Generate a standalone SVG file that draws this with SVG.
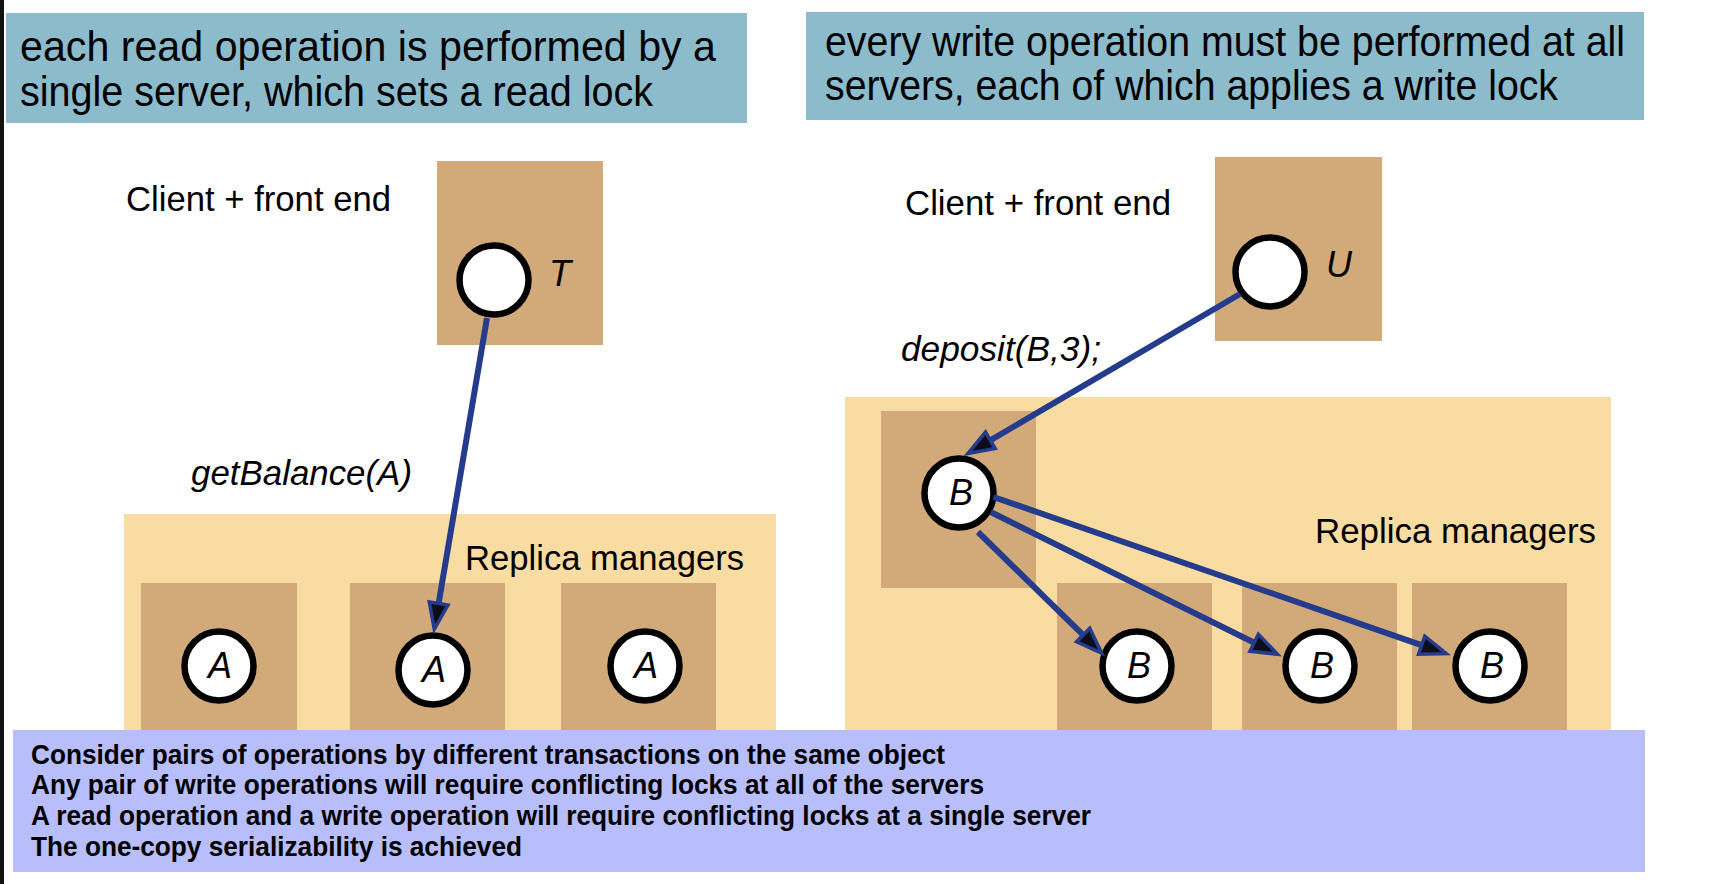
<svg xmlns="http://www.w3.org/2000/svg" width="1714" height="884" viewBox="0 0 1714 884">
<defs>
<style>
text{font-family:"Liberation Sans",Arial,Helvetica,sans-serif;fill:#000}
.hdr{fill:#8CBBCB}
.big{fill:#F8DCA2}
.srv{fill:#D2AA7A}
.obj{fill:#fff;stroke:#000;stroke-width:6.5}
.h{font-size:42px}
.lbl{font-size:35px}
.it{font-style:italic}
.let{font-size:36px;font-style:italic;text-anchor:middle}
.note{font-size:28px;font-weight:bold}
.conn{fill:none;stroke:#253C8C;stroke-width:6;marker-end:url(#ah)}
</style>
<marker id="ah" markerUnits="userSpaceOnUse" orient="auto" viewBox="-16 -14 38 28" markerWidth="38" markerHeight="28" refX="0" refY="0" overflow="visible">
<path d="M14,0 L-12,-9.5 L-12,9.5 Z" fill="#0d0d1a" stroke="#253C8C" stroke-width="3.5" stroke-linejoin="miter"/>
</marker>
</defs>
<rect x="0" y="0" width="1714" height="884" fill="#fff"/>
<rect x="0" y="0" width="4" height="884" fill="#111"/>

<g id="header-read">
<rect class="hdr" x="6" y="13" width="741" height="110"/>
<text class="h" x="20" y="61" textLength="696" lengthAdjust="spacingAndGlyphs">each read operation is performed by a</text>
<text class="h" x="20" y="106" textLength="633" lengthAdjust="spacingAndGlyphs">single server, which sets a read lock</text>
</g>
<g id="header-write">
<rect class="hdr" x="806" y="12" width="838" height="108"/>
<text class="h" x="825" y="56" textLength="800" lengthAdjust="spacingAndGlyphs">every write operation must be performed at all</text>
<text class="h" x="825" y="100" textLength="733" lengthAdjust="spacingAndGlyphs">servers, each of which applies a write lock</text>
</g>

<g id="client-T">
<text class="lbl" x="126" y="211" textLength="265" lengthAdjust="spacingAndGlyphs">Client + front end</text>
<rect class="srv" x="437" y="161" width="166" height="184"/>
<circle class="obj" cx="494" cy="280" r="34.5"/>
<text class="let" x="560" y="286">T</text>
</g>

<g id="client-U">
<text class="lbl" x="905" y="215" textLength="266" lengthAdjust="spacingAndGlyphs">Client + front end</text>
<rect class="srv" x="1215" y="157" width="167" height="184"/>
<circle class="obj" cx="1270" cy="272" r="34.5"/>
<text class="let" x="1339" y="277">U</text>
</g>

<g id="replicas-left">
<rect class="big" x="124" y="514" width="652" height="226"/>
<text class="lbl" x="465" y="570" textLength="279" lengthAdjust="spacingAndGlyphs">Replica managers</text>
</g>
<g id="rm-A1">
<rect class="srv" x="141" y="583" width="156" height="157"/>
<circle class="obj" cx="219" cy="666" r="34.5"/>
<text class="let" x="220" y="678">A</text>
</g>
<g id="rm-A2">
<rect class="srv" x="350" y="583" width="155" height="157"/>
<circle class="obj" cx="433" cy="670" r="34.5"/>
<text class="let" x="434" y="682">A</text>
</g>
<g id="rm-A3">
<rect class="srv" x="561" y="583" width="155" height="157"/>
<circle class="obj" cx="645" cy="666" r="34.5"/>
<text class="let" x="646" y="678">A</text>
</g>

<g id="replicas-right">
<rect class="big" x="845" y="397" width="766" height="343"/>
<text class="lbl" x="1315" y="543" textLength="281" lengthAdjust="spacingAndGlyphs">Replica managers</text>
</g>
<g id="rm-B0">
<rect class="srv" x="881" y="411" width="155" height="177"/>
<circle class="obj" cx="959" cy="493" r="34.5"/>
<text class="let" x="961" y="505">B</text>
</g>
<g id="rm-B1">
<rect class="srv" x="1057" y="583" width="155" height="157"/>
<circle class="obj" cx="1137" cy="666" r="34.5"/>
<text class="let" x="1139" y="678">B</text>
</g>
<g id="rm-B2">
<rect class="srv" x="1242" y="583" width="155" height="157"/>
<circle class="obj" cx="1320" cy="666" r="34.5"/>
<text class="let" x="1322" y="678">B</text>
</g>
<g id="rm-B3">
<rect class="srv" x="1412" y="583" width="155" height="157"/>
<circle class="obj" cx="1490" cy="666" r="34.5"/>
<text class="let" x="1492" y="678">B</text>
</g>

<g id="op-labels">
<text class="lbl it" x="191" y="485" textLength="221" lengthAdjust="spacingAndGlyphs">getBalance(A)</text>
<text class="lbl it" x="901" y="361" textLength="200" lengthAdjust="spacingAndGlyphs">deposit(B,3);</text>
</g>

<g id="connectors">
<path class="conn" d="M487,318 L436.6,615.3"/>
<path class="conn" d="M1240,294 L980,446.4"/>
<path class="conn" d="M978,532 L1091.7,643.4"/>
<path class="conn" d="M990.7,512 L1264.9,648"/>
<path class="conn" d="M993.5,497 L1433,649.1"/>
</g>

<g id="notes">
<rect x="13" y="730" width="1632" height="142" fill="#B8BEFA"/>
<text class="note" x="31" y="764" textLength="914" lengthAdjust="spacingAndGlyphs">Consider pairs of operations by different transactions on the same object</text>
<text class="note" x="31" y="794" textLength="953" lengthAdjust="spacingAndGlyphs">Any pair of write operations will require conflicting locks at all of the servers</text>
<text class="note" x="31" y="825" textLength="1060" lengthAdjust="spacingAndGlyphs">A read operation and a write operation will require conflicting locks at a single server</text>
<text class="note" x="31" y="856" textLength="491" lengthAdjust="spacingAndGlyphs">The one-copy serializability is achieved</text>
</g>
</svg>
